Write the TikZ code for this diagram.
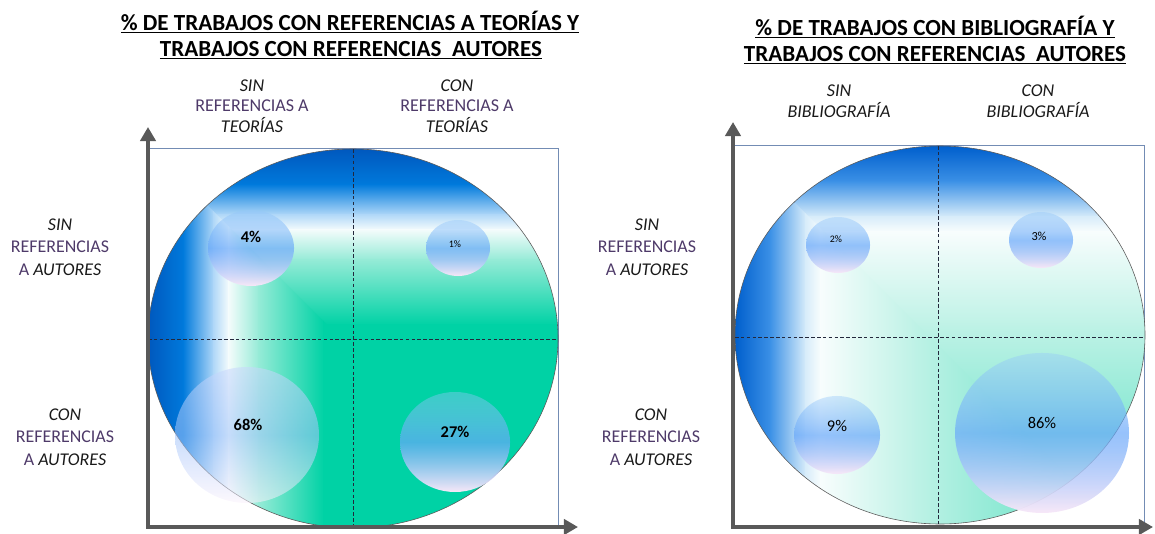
\documentclass[tikz,border=0pt]{standalone}
\usepackage{fontspec}
\setmainfont{Carlito}
\usetikzlibrary{arrows.meta,fadings}
\definecolor{axisgray}{RGB}{89,89,89}
\definecolor{framecol}{RGB}{115,140,180}
\definecolor{rimgray}{RGB}{90,90,90}
\definecolor{quadcol}{RGB}{35,40,60}
\definecolor{labpurple}{RGB}{78,58,105}
\definecolor{labdark}{RGB}{25,25,25}
% colours of the left disc
\definecolor{lA}{RGB}{0,88,190}
\definecolor{lB}{RGB}{0,122,220}
\definecolor{lC}{RGB}{175,215,248}
\definecolor{lD}{RGB}{245,252,252}
\definecolor{lE}{RGB}{150,235,215}
\definecolor{lF}{RGB}{0,210,165}
% colours of the right disc
\definecolor{rA}{RGB}{0,95,205}
\definecolor{rB}{RGB}{60,145,230}
\definecolor{rC}{RGB}{215,236,250}
\definecolor{rD}{RGB}{248,253,253}
\definecolor{rE}{RGB}{190,242,230}
\definecolor{rF}{RGB}{80,222,190}
% bubbles
\definecolor{bubTop}{RGB}{150,200,250}
\definecolor{bubMid}{RGB}{105,168,250}
\definecolor{bubLow}{RGB}{248,232,248}
\definecolor{bigTop}{RGB}{200,215,252}
\definecolor{bigMid}{RGB}{160,195,250}
\definecolor{bigLow}{RGB}{250,242,252}
\tikzfading[name=bubfade, top color=transparent!60, bottom color=transparent!0]
\begin{document}
\begin{tikzpicture}[x=0.03cm,y=-0.03cm,
  axis/.style={draw=axisgray,line width=4.2pt,line cap=rect,-{Triangle[length=12pt,width=13pt]}},
  frame/.style={draw=framecol,line width=0.8pt},
  rim/.style={draw=rimgray,line width=0.5pt},
  quad/.style={draw=quadcol,line width=0.6pt,densely dashed},
  bubble/.style={top color=bubTop,bottom color=bubLow,middle color=bubMid,path fading=bubfade},
  title/.style={font=\bfseries\fontsize{19.7}{22}\selectfont,text=black,inner sep=0pt},
  collab/.style={font=\fontsize{15.4}{17.5}\selectfont,align=center,text=labdark,inner sep=0pt},
  rowlab/.style={font=\fontsize{15.3}{19}\selectfont,align=center,text=labdark,inner sep=0pt},
  pct/.style={font=\fontsize{14}{16}\selectfont,text=black,inner sep=0pt}]
\useasboundingbox (0,0) rectangle (1155,533);

%%% left panel
\node[title] (tL1) at (350,22) {\underline{\% DE TRABAJOS CON REFERENCIAS A TEORÍAS Y}};
\node[title] (tL2) at (351,50) {\underline{TRABAJOS CON REFERENCIAS\ \ AUTORES}};
\node[collab] (cL1) at (252,106) {\textit{SIN}\\\textcolor{labpurple}{REFERENCIAS A}\\\textit{TEORÍAS}};
\node[collab] (cL2) at (457,106) {\textit{CON}\\\textcolor{labpurple}{REFERENCIAS A}\\\textit{TEORÍAS}};
\node[rowlab] (rL1) at (60,247) {\textit{SIN}\\\textcolor{labpurple}{REFERENCIAS}\\\textcolor{labpurple}{A} \textit{AUTORES}};
\node[rowlab] (rL2) at (65,437) {\textit{CON}\\\textcolor{labpurple}{REFERENCIAS}\\\textcolor{labpurple}{A} \textit{AUTORES}};

\coordinate (fL1) at (148,148);
\coordinate (fL2) at (558,148);
\coordinate (fL3) at (558,527);
\draw[frame] (fL1) -- (fL2) -- (fL3);

\begin{scope}
\clip (353,338.5) ellipse [x radius=205, y radius=189.5];
\begin{scope}
\clip (148,149) -- (648,149) -- (648,649) -- cycle;
\foreach \a/\b/\ca/\cb in {0/35/lA/lB,35/65/lB/lC,65/80/lC/lD,80/110/lD/lE,110/175/lE/lF}
  \shade[top color=\ca,bottom color=\cb] (140,149+\a) rectangle (570,150+\b);
\fill[lF] (140,149+175) rectangle (570,540);
\end{scope}
\begin{scope}
\clip (148,149) -- (151,149) -- (651,649) -- (148,649) -- cycle;
\foreach \a/\b/\ca/\cb in {0/35/lA/lB,35/65/lB/lC,65/80/lC/lD,80/110/lD/lE,110/175/lE/lF}
  \shade[left color=\ca,right color=\cb] (148+\a,140) rectangle (149+\b,540);
\fill[lF] (148+175,140) rectangle (570,540);
\end{scope}
\end{scope}
\draw[rim] (353,338.5) ellipse [x radius=205, y radius=189.5];
\coordinate (qLt) at (353,149);
\coordinate (qLb) at (353,528);
\coordinate (qLl) at (148,339);
\coordinate (qLr) at (558,339);
\draw[quad] (qLt) -- (qLb);
\draw[quad] (qLl) -- (qLr);

\shade[bubble] (251,248) ellipse [x radius=43, y radius=38];
\shade[bubble] (458,248) ellipse [x radius=32, y radius=28];
\shade[top color=bigTop,bottom color=bigLow,middle color=bigMid,fill opacity=0.55] (247,435) ellipse [x radius=72, y radius=68];
\shade[bubble] (455,442) ellipse [x radius=55, y radius=50];
\node[pct,font=\bfseries\fontsize{14}{16}\selectfont] (pL1) at (251,237) {4\%};
\node[pct,font=\fontsize{8.5}{10}\selectfont] (pL2) at (455,244) {1\%};
\node[pct,font=\bfseries\fontsize{14}{16}\selectfont] (pL3) at (248,425) {68\%};
\node[pct,font=\bfseries\fontsize{14}{16}\selectfont] (pL4) at (455,432) {27\%};

\coordinate (oL) at (148,527);
\coordinate (yL) at (148,127);
\coordinate (xL) at (578,527);
\draw[axis] (oL) -- (yL);
\draw[axis] (oL) -- (xL);

%%% right panel
\node[title] (tR1) at (935,27) {\underline{\% DE TRABAJOS CON BIBLIOGRAFÍA Y}};
\node[title] (tR2) at (935,55) {\underline{TRABAJOS CON REFERENCIAS\ \ AUTORES}};
\node[collab] (cR1) at (839,101) {\textit{SIN}\\\textit{BIBLIOGRAFÍA}};
\node[collab] (cR2) at (1038,101) {\textit{CON}\\\textit{BIBLIOGRAFÍA}};
\node[rowlab] (rR1) at (647,247) {\textit{SIN}\\\textcolor{labpurple}{REFERENCIAS}\\\textcolor{labpurple}{A} \textit{AUTORES}};
\node[rowlab] (rR2) at (651,437) {\textit{CON}\\\textcolor{labpurple}{REFERENCIAS}\\\textcolor{labpurple}{A} \textit{AUTORES}};

\coordinate (fR1) at (733,145);
\coordinate (fR2) at (1144,145);
\coordinate (fR3) at (1144,527);
\draw[frame] (fR1) -- (fR2) -- (fR3);

\begin{scope}
\clip (940,335) ellipse [x radius=205, y radius=189];
\begin{scope}
\clip (735,146) -- (1235,146) -- (1235,646) -- cycle;
\foreach \a/\b/\ca/\cb in {0/35/rA/rB,35/70/rB/rC,70/85/rC/rD,85/180/rD/rE,180/380/rE/rF}
  \shade[top color=\ca,bottom color=\cb] (725,146+\a) rectangle (1155,147+\b);
\end{scope}
\begin{scope}
\clip (735,146) -- (738,146) -- (1238,646) -- (735,646) -- cycle;
\foreach \a/\b/\ca/\cb in {0/35/rA/rB,35/70/rB/rC,70/85/rC/rD,85/180/rD/rE,180/380/rE/rF}
  \shade[left color=\ca,right color=\cb] (735+\a,136) rectangle (736+\b,540);
\end{scope}
\end{scope}
\draw[rim] (940,335) ellipse [x radius=205, y radius=189];
\coordinate (qRt) at (938,146);
\coordinate (qRb) at (938,524);
\coordinate (qRl) at (735,337);
\coordinate (qRr) at (1145,337);
\draw[quad] (qRt) -- (qRb);
\draw[quad] (qRl) -- (qRr);

\shade[bubble] (838,245) ellipse [x radius=32, y radius=28];
\shade[bubble] (1041,240) ellipse [x radius=32, y radius=28];
\shade[bubble] (837,435) ellipse [x radius=43, y radius=39];
\shade[bubble] (1042,433) ellipse [x radius=87, y radius=80];
\node[pct,font=\fontsize{8.5}{10}\selectfont] (pR1) at (836,239) {2\%};
\node[pct,font=\fontsize{10.5}{12}\selectfont] (pR2) at (1039,236) {3\%};
\node[pct] (pR3) at (837,426) {9\%};
\node[pct] (pR4) at (1042,423) {86\%};

\coordinate (oR) at (733,527);
\coordinate (yR) at (733,122);
\coordinate (xR) at (1153,527);
\draw[axis] (oR) -- (yR);
\draw[axis] (oR) -- (xR);
\end{tikzpicture}
\end{document}
